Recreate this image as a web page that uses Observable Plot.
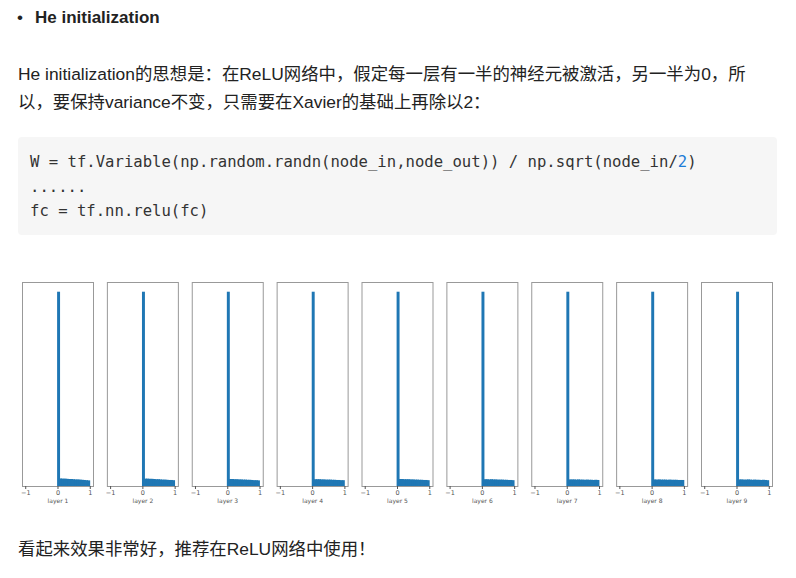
<!DOCTYPE html>
<html><head><meta charset="utf-8">
<script src="https://cdn.jsdelivr.net/npm/d3@7"></script>
<script src="https://cdn.jsdelivr.net/npm/@observablehq/plot@0.6"></script>
<style>
html,body{margin:0;padding:0;background:#fff;width:796px;height:578px;overflow:hidden;}
body{position:relative;font-family:"Liberation Sans","Noto Sans CJK SC",sans-serif;color:#222;}
.abs{position:absolute;white-space:nowrap;}
#bullet{left:17px;top:4px;font-size:17px;line-height:28px;}
#title{left:35px;top:4px;font-size:17px;font-weight:bold;line-height:28px;}
#para{left:18px;top:60px;font-size:17.4px;line-height:28px;}
#code{left:18px;top:137px;width:759px;height:98px;background:#f6f6f6;border-radius:4px;}
#code .lines{padding:13px 12px;font-family:"DejaVu Sans Mono",monospace;font-size:15.6px;line-height:24.5px;color:#333;white-space:pre;}
#code .lines div{height:24.5px;}
#chart{left:0;top:272px;}
#chart svg text{fill:#555;-webkit-font-smoothing:antialiased;}
#end{left:18px;top:535px;font-size:17.4px;line-height:28px;}
</style>
</head><body>
<div class="abs" id="bullet">•</div>
<div class="abs" id="title">He initialization</div>
<div class="abs" id="para">He initialization的思想是：在ReLU网络中，假定每一层有一半的神经元被激活，另一半为0，所<br>以，要保持variance不变，只需要在Xavier的基础上再除以2：</div>
<div class="abs" id="code"><div class="lines"><div><span>W = tf.Variable(np.random.randn(node_in,node_out)) / np.sqrt(node_in/</span><span style="color:#1c7cd6">2</span><span>)</span></div><div><span>......</span></div><div><span>fc = tf.nn.relu(fc)</span></div></div></div>
<div class="abs" id="chart"></div>
<div class="abs" id="end">看起来效果非常好，推荐在ReLU网络中使用！</div>
<script>
const layers = [1, 2, 3, 4, 5, 6, 7, 8, 9];
const layerLabels = ["layer 1", "layer 2", "layer 3", "layer 4", "layer 5", "layer 6", "layer 7", "layer 8", "layer 9"];
const binStarts = [0, 0.0667, 0.1333, 0.2, 0.2667, 0.3333, 0.4, 0.4667, 0.5333, 0.6, 0.6667, 0.7333, 0.8, 0.8667, 0.9333];
const binWidth = 0.0667;
const xTicks = [-1, 0, 1];
const xTickLabels = ["−1", "0", "1"];
const spike = [100, 100, 100, 100, 100, 100, 100, 100, 100];
const tail1 = [3.9, 3.8, 3.8, 3.7, 3.6, 3.6, 3.5, 3.4, 3.4, 3.3, 3.2, 3.1, 3.0, 2.9];
const tail2 = [3.8, 3.8, 3.7, 3.7, 3.6, 3.5, 3.5, 3.4, 3.3, 3.3, 3.2, 3.1, 3.1, 3.0];
const tail3 = [3.6, 3.6, 3.5, 3.5, 3.4, 3.4, 3.3, 3.3, 3.2, 3.2, 3.1, 3.0, 3.0, 2.9];
const tail4 = [3.5, 3.5, 3.5, 3.4, 3.4, 3.3, 3.3, 3.3, 3.2, 3.2, 3.1, 3.1, 3.0, 3.0];
const tail5 = [3.6, 3.6, 3.5, 3.5, 3.5, 3.4, 3.4, 3.3, 3.3, 3.2, 3.2, 3.1, 3.1, 3.0];
const tail6 = [3.5, 3.5, 3.4, 3.5, 3.4, 3.4, 3.3, 3.3, 3.3, 3.2, 3.2, 3.1, 3.1, 3.0];
const tail7 = [3.4, 3.4, 3.4, 3.3, 3.4, 3.3, 3.3, 3.2, 3.3, 3.2, 3.2, 3.1, 3.2, 3.1];
const tail8 = [3.4, 3.3, 3.4, 3.3, 3.3, 3.3, 3.2, 3.3, 3.2, 3.2, 3.2, 3.1, 3.1, 3.1];
const tail9 = [3.4, 3.4, 3.3, 3.3, 3.4, 3.3, 3.2, 3.3, 3.2, 3.2, 3.1, 3.2, 3.1, 3.0];
const tails = [tail1, tail2, tail3, tail4, tail5, tail6, tail7, tail8, tail9];

const table = layers.flatMap((layer, i) =>
  binStarts.map((x0, j) => ({
    layer,
    x0,
    x1: x0 + binWidth,
    count: j === 0 ? spike[i] : tails[i][j - 1]
  }))
);

const chart = Plot.plot({
  width: 796,
  height: 238,
  marginLeft: 22,
  marginRight: 24,
  marginTop: 10,
  marginBottom: 24,
  x: {domain: [-1.1, 1.1]},
  y: {domain: [0, 105], axis: null},
  fx: {domain: layers, paddingInner: 0.1635, paddingOuter: 0, round: false},
  style: {fontFamily: "'DejaVu Sans', sans-serif", background: "transparent", color: "#555"},
  marks: [
    Plot.rect(table, {x1: "x0", x2: "x1", y1: 0, y2: "count", fx: "layer", fill: "#1f77b4", insetLeft: -0.4, insetRight: -0.4}),
    Plot.frame({stroke: "#999"}),
    Plot.axisX({ticks: xTicks, tickFormat: (d) => xTickLabels[xTicks.indexOf(d)], tickSize: 3, tickPadding: 1, fontSize: 6.5, label: null}),
    Plot.axisFx({anchor: "bottom", tickSize: 0, tickPadding: 12.5, tickFormat: (d) => layerLabels[d - 1], fontSize: 6, label: null})
  ]
});
document.getElementById("chart").appendChild(chart);
</script>
</body></html>
